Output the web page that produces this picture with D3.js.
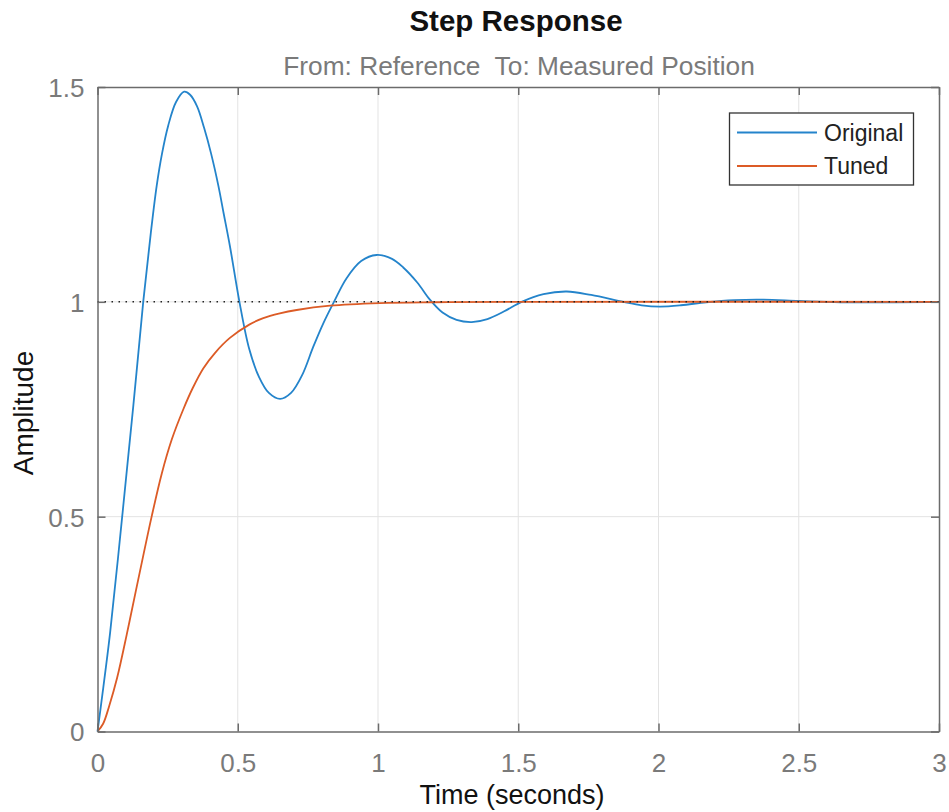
<!DOCTYPE html>
<html><head><meta charset="utf-8">
<script src="https://cdn.jsdelivr.net/npm/d3@7"></script>
<style>
body{margin:0;background:#fff}
svg{display:block}
text{font-family:"Liberation Sans",Arial,Helvetica,sans-serif}
</style>
</head><body>
<svg id="chart" width="949" height="812"></svg>
<script>
// ---- data ----
const originalTime = [0, 0.015, 0.045, 0.088, 0.128, 0.163, 0.19, 0.211, 0.23, 0.252, 0.28, 0.309, 0.33, 0.355, 0.38, 0.405, 0.431, 0.45, 0.472, 0.506, 0.541, 0.576, 0.611, 0.651, 0.69, 0.73, 0.769, 0.805, 0.843, 0.888, 0.94, 0.995, 1.05, 1.09, 1.14, 1.185, 1.23, 1.28, 1.334, 1.39, 1.45, 1.512, 1.59, 1.673, 1.76, 1.875, 1.94, 2.005, 2.08, 2.17, 2.27, 2.374, 2.5, 2.65, 3.0];
const originalAmp  = [0, 0.074, 0.23, 0.5, 0.76, 1.0, 1.16, 1.27, 1.345, 1.41, 1.465, 1.489, 1.482, 1.455, 1.405, 1.345, 1.27, 1.205, 1.13, 1.0, 0.89, 0.825, 0.788, 0.774, 0.788, 0.83, 0.895, 0.95, 1.0, 1.055, 1.095, 1.109, 1.10, 1.08, 1.045, 1.005, 0.975, 0.958, 0.953, 0.96, 0.978, 1.0, 1.018, 1.024, 1.016, 1.0, 0.992, 0.989, 0.992, 0.999, 1.004, 1.005, 1.002, 0.999, 1.0];
const tunedTime = [0, 0.02, 0.042, 0.07, 0.104, 0.136, 0.165, 0.193, 0.229, 0.265, 0.306, 0.34, 0.377, 0.42, 0.472, 0.541, 0.591, 0.65, 0.71, 0.829, 1.007, 1.2, 1.5, 3.0];
const tunedAmp  = [0, 0.018, 0.06, 0.125, 0.225, 0.325, 0.415, 0.5, 0.6, 0.68, 0.75, 0.8, 0.845, 0.882, 0.916, 0.947, 0.962, 0.973, 0.981, 0.991, 0.997, 0.999, 1.0, 1.0];
const xTicks = [0, 0.5, 1, 1.5, 2, 2.5, 3];
const xTickLabels = ["0", "0.5", "1", "1.5", "2", "2.5", "3"];
const yTicks = [0, 0.5, 1, 1.5];
const yTickLabels = ["0", "0.5", "1", "1.5"];
const seriesNames = ["Original", "Tuned"];
const seriesColors = ["#2484cb", "#dc5b26"];
const steadyState = 1;
const titleText = "Step Response";
const subtitleText = "From: Reference  To: Measured Position";
const xLabelText = "Time (seconds)";
const yLabelText = "Amplitude";

// ---- layout ----
const svg = d3.select("#chart");
const L = 97.5, R = 939, T = 87, B = 731.5;
const x = d3.scaleLinear().domain([0, 3]).range([L, R]);
const y = d3.scaleLinear().domain([0, 1.5]).range([B, T]);
const axisColor = "#6b6b6b", tickTextColor = "#7a7a7a";

// grid
const grid = svg.append("g");
grid.selectAll(".gx").data(xTicks.slice(1, -1)).join("line")
  .attr("x1", d => x(d)).attr("x2", d => x(d)).attr("y1", T).attr("y2", B)
  .attr("stroke", "#e3e3e3").attr("stroke-width", 1);
grid.selectAll(".gy").data(yTicks.slice(1, -1)).join("line")
  .attr("x1", L).attr("x2", R).attr("y1", d => y(d)).attr("y2", d => y(d))
  .attr("stroke", "#e3e3e3").attr("stroke-width", 1);

// series
const series = [
  {name: seriesNames[0], color: seriesColors[0], pts: originalTime.map((t, i) => [t, originalAmp[i]])},
  {name: seriesNames[1], color: seriesColors[1], pts: tunedTime.map((t, i) => [t, tunedAmp[i]])}
];
const line = d3.line().x(d => x(d[0])).y(d => y(d[1])).curve(d3.curveCatmullRom.alpha(0.5));
svg.append("g").selectAll("path").data(series).join("path")
  .attr("d", d => line(d.pts)).attr("fill", "none")
  .attr("stroke", d => d.color).attr("stroke-width", 1.8).attr("stroke-linejoin", "round");

// steady-state dotted line
svg.append("line").attr("x1", L).attr("x2", R).attr("y1", y(steadyState)).attr("y2", y(steadyState))
  .attr("stroke", "#222").attr("stroke-width", 1.5).attr("stroke-dasharray", "1.5,5.5");

// axes
const xAxis = d3.axisBottom(x).tickValues(xTicks).tickFormat((d, i) => xTickLabels[i]).tickSizeInner(-8).tickSizeOuter(0).tickPadding(22);
const yAxis = d3.axisLeft(y).tickValues(yTicks).tickFormat((d, i) => yTickLabels[i]).tickSizeInner(-8).tickSizeOuter(0).tickPadding(13);
const gx = svg.append("g").attr("transform", `translate(0,${B})`).call(xAxis);
const gy = svg.append("g").attr("transform", `translate(${L},0)`).call(yAxis);
const gxTop = svg.append("g").attr("transform", `translate(0,${T})`).call(d3.axisTop(x).tickValues(xTicks).tickFormat("").tickSizeInner(-8).tickSizeOuter(0));
const gyRight = svg.append("g").attr("transform", `translate(${R},0)`).call(d3.axisRight(y).tickValues(yTicks).tickFormat("").tickSizeInner(-8).tickSizeOuter(0));
[gx, gy, gxTop, gyRight].forEach(g => {
  g.select(".domain").attr("stroke", axisColor).attr("stroke-width", 1.5);
  g.selectAll(".tick line").attr("stroke", axisColor).attr("stroke-width", 1.5);
  g.selectAll(".tick text").attr("fill", tickTextColor).attr("font-size", 26)
    .attr("font-family", '"Liberation Sans",Arial,Helvetica,sans-serif');
});
gx.selectAll(".tick text").attr("dy", "0.71em");
gy.selectAll(".tick text").attr("dy", "0.36em");

// titles
svg.append("text").attr("x", 516).attr("y", 31).attr("text-anchor", "middle")
  .attr("font-size", 29.5).attr("font-weight", "bold").attr("fill", "#111").text(titleText);
svg.append("text").attr("x", 519).attr("y", 75).attr("text-anchor", "middle")
  .style("white-space", "pre")
  .attr("font-size", 26.3).attr("fill", "#7a7a7a").text(subtitleText);
svg.append("text").attr("x", 512).attr("y", 804).attr("text-anchor", "middle")
  .attr("font-size", 27).attr("fill", "#111").text(xLabelText);
svg.append("text").attr("transform", "translate(33,413) rotate(-90)").attr("text-anchor", "middle")
  .attr("font-size", 28).attr("fill", "#111").text(yLabelText);

// legend
const lg = svg.append("g");
lg.append("rect").attr("x", 729.5).attr("y", 113).attr("width", 184).attr("height", 72)
  .attr("fill", "#fff").attr("stroke", "#333").attr("stroke-width", 1.3);
const items = lg.selectAll("g.item").data(series).join("g").attr("class", "item")
  .attr("transform", (d, i) => `translate(0,${132.5 + i * 33.5})`);
items.append("line").attr("x1", 737).attr("x2", 817).attr("y1", 0).attr("y2", 0)
  .attr("stroke", d => d.color).attr("stroke-width", 1.8);
items.append("text").attr("x", 824).attr("y", 0).attr("dy", "0.35em")
  .attr("font-size", 23).attr("fill", "#222").text(d => d.name);
</script>
</body></html>
